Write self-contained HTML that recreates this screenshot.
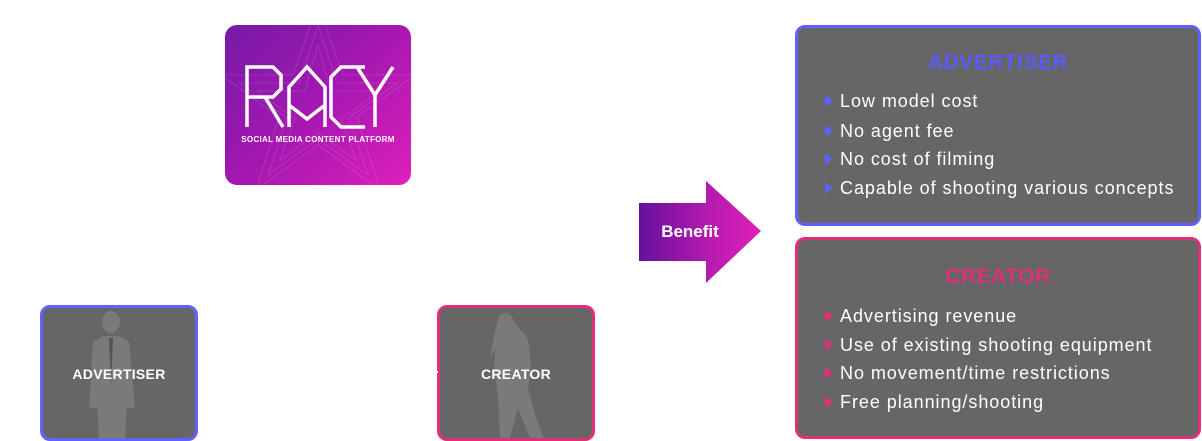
<!DOCTYPE html>
<html><head><meta charset="utf-8"><style>
body{margin:0;width:1202px;height:440px;background:#fff;position:relative;overflow:hidden;font-family:"Liberation Sans",sans-serif}
.a{position:absolute}
.box{position:absolute;background:#666;border-radius:10px;box-sizing:border-box}
.t{position:absolute;left:0;right:0;text-align:center;font-weight:bold;font-size:21px;letter-spacing:0.5px}
.li{position:absolute;left:42px;color:#fff;font-size:18px;line-height:22px;white-space:nowrap;letter-spacing:0.95px}
.li:before{content:"";position:absolute;left:-15px;top:5px;border-left:8px solid var(--c);border-top:6px solid transparent;border-bottom:6px solid transparent}
.lbl{position:absolute;left:0;right:0;top:58px;text-align:center;color:#fff;font-weight:bold;font-size:14px;letter-spacing:0.3px}
</style></head><body>

<div class="a" style="left:225px;top:25px;width:186px;height:160px;border-radius:12px;background:linear-gradient(135deg,#761aa6 0%,#a418b0 50%,#e01fbb 100%);overflow:hidden">
<svg width="186" height="160" style="position:absolute;left:0;top:0">
<g fill="none" stroke="rgba(255,255,255,0.12)" stroke-width="1">
<polygon points="93,-20 118,50 190,50 132,92 155,165 93,120 31,165 54,92 -4,50 68,50"/>
<polygon points="93,0 112,58 172,58 124,93 143,150 93,114 43,150 62,93 14,58 74,58"/>
<polygon points="93,20 106,66 154,66 116,94 131,135 93,108 55,135 70,94 32,66 80,66"/>
</g>
<g fill="none" stroke="#fff" stroke-width="3.5" stroke-linejoin="miter">
<path d="M22,102 V42 H48 L56,50 V64 L48,72 H22 M40,72 L58,102"/>
<path d="M64,102 V62 L82,42 L100,62 V102 M64,80 L82,94 L100,80"/>
<path d="M140,42 H116 L106,52 V92 L116,102 H140"/>
<path d="M146,42 L164,70 L182,42 M164,70 V102" transform="translate(-14,0)"/>
</g>
<text x="93" y="117" text-anchor="middle" fill="#fff" font-family="Liberation Sans" font-weight="bold" font-size="8" letter-spacing="0.3">SOCIAL MEDIA CONTENT PLATFORM</text>
</svg>
</div>

<div class="box" style="left:40px;top:305px;width:158px;height:136px;border:3px solid #6262ff;overflow:hidden">
<svg width="152" height="130" style="position:absolute;left:0;top:0"><g fill="#7a7a7a">
<ellipse cx="68" cy="14" rx="9" ry="11"/>
<path d="M50,34 L60,28 H76 L86,34 L92,100 H84 L82,130 H56 L54,100 H46 Z"/>
</g><path d="M66,30 L68,80 L70,30" fill="#555"/></svg>
<div class="lbl">ADVERTISER</div></div>

<div class="box" style="left:437px;top:305px;width:158px;height:136px;border:3px solid #e0307a;overflow:hidden">
<svg width="152" height="130" style="position:absolute;left:0;top:0"><g fill="#7a7a7a">
<path d="M58,10 C62,2 72,4 74,14 L82,24 C92,30 92,60 88,80 L96,110 L104,130 H90 L78,100 L70,130 H60 L58,90 C56,70 52,60 56,40 L50,50 Z"/>
</g></svg>
<div class="lbl">CREATOR</div></div>
<div class="a" style="left:434px;top:371px;width:4px;height:2px;background:#fff"></div>

<svg class="a" style="left:639px;top:181px" width="123" height="103">
<defs><linearGradient id="g" x1="0" x2="1"><stop offset="0" stop-color="#650f9c"/><stop offset="0.55" stop-color="#b31aae"/><stop offset="1" stop-color="#e020b8"/></linearGradient></defs>
<polygon points="0,22 67,22 67,0 122,50 67,102 67,80 0,80" fill="url(#g)"/>
<text x="51" y="56" text-anchor="middle" fill="#fff" font-family="Liberation Sans" font-weight="bold" font-size="17">Benefit</text>
</svg>

<div class="box" style="left:795px;top:25px;width:406px;height:201px;border:3px solid #6060ff;--c:#6060ff">
<div class="t" style="top:23px;color:#5a5aff">ADVERTISER</div>
<div class="li" style="top:62px">Low model cost</div>
<div class="li" style="top:92px">No agent fee</div>
<div class="li" style="top:120px">No cost of filming</div>
<div class="li" style="top:149px">Capable of shooting various concepts</div>
</div>

<div class="box" style="left:795px;top:237px;width:406px;height:202px;border:3px solid #e0307a;--c:#e0307a">
<div class="t" style="top:25px;color:#e0307a">CREATOR</div>
<div class="li" style="top:65px">Advertising revenue</div>
<div class="li" style="top:94px">Use of existing shooting equipment</div>
<div class="li" style="top:122px">No movement/time restrictions</div>
<div class="li" style="top:151px">Free planning/shooting</div>
</div>
</body></html>
